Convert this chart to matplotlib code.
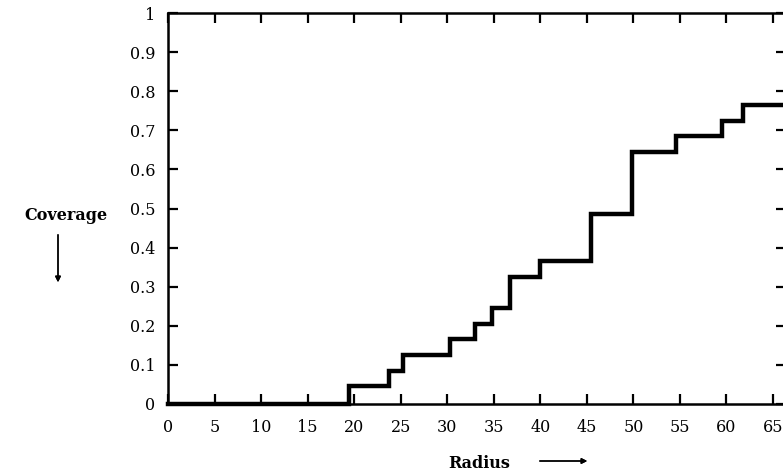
import matplotlib.pyplot as plt

# step edges (radius) and coverage level on each interval
radius_edges = [0, 19.4, 23.7, 25.3, 30.3, 33.0, 34.8, 36.7, 40.0, 45.4, 49.8, 54.6, 59.5, 61.8, 66.5]
coverage = [0.0, 0.045, 0.085, 0.125, 0.165, 0.205, 0.245, 0.325, 0.365, 0.485, 0.645, 0.685, 0.725, 0.765]

x_ticks = [0, 5, 10, 15, 20, 25, 30, 35, 40, 45, 50, 55, 60, 65]
y_ticks = [0, 0.1, 0.2, 0.3, 0.4, 0.5, 0.6, 0.7, 0.8, 0.9, 1]
y_labels = ["0", "0.1", "0.2", "0.3", "0.4", "0.5", "0.6", "0.7", "0.8", "0.9", "1"]

plt.rcParams['font.family'] = ['DejaVu Serif']

fig = plt.figure(figsize=(7.83, 4.74), dpi=100)
W, H = 783, 474
# axes run a little past the right figure edge, so the right spine is cut off
ax = fig.add_axes([168 / W, 70 / H, (786 - 168) / W, 391 / H])

xs = radius_edges
ys = coverage + [coverage[-1]]
ax.step(xs, ys, where='post', color='black', linewidth=3.2, clip_on=False,
        solid_joinstyle='miter')

ax.set_xlim(0, 66.4)
ax.set_ylim(0, 1)
ax.set_xticks(x_ticks)
ax.set_yticks(y_ticks)
ax.set_yticklabels(y_labels)

for s in ax.spines.values():
    s.set_linewidth(1.8)
ax.tick_params(direction='in', length=7.5, width=1.6, top=True, right=True,
               labelsize=11.5)
ax.tick_params(axis='x', pad=11)
ax.tick_params(axis='y', pad=9)

fig.text(66 / W, 1 - 215 / H, "Coverage", fontsize=11.5, fontweight='bold',
         ha='center', va='center')
fig.text(479 / W, 1 - 464 / H, "Radius", fontsize=11.5, fontweight='bold',
         ha='center', va='center')

arrow = dict(arrowstyle='-|>', color='black', lw=1.0, mutation_scale=8)
fig.add_artist(plt.annotate("", xy=(58 / W, 1 - 285 / H), xytext=(58 / W, 1 - 232 / H),
                            xycoords='figure fraction', textcoords='figure fraction',
                            arrowprops=arrow))
fig.add_artist(plt.annotate("", xy=(590 / W, 1 - 461 / H), xytext=(537 / W, 1 - 461 / H),
                            xycoords='figure fraction', textcoords='figure fraction',
                            arrowprops=arrow))

fig.savefig("out.png", dpi=100)
